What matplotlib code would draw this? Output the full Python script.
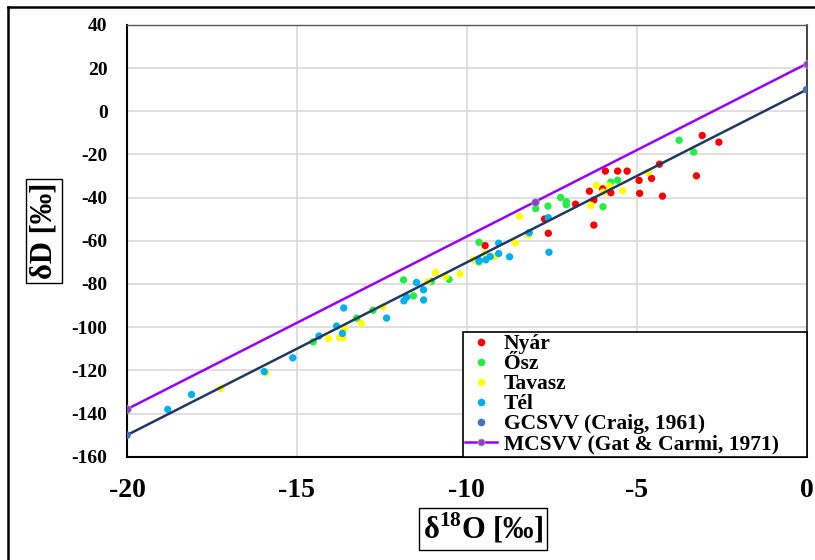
import numpy as np
import matplotlib.pyplot as plt
from matplotlib.lines import Line2D

plt.rcParams["font.family"] = ["Liberation Serif", "DejaVu Serif"]
plt.rcParams["font.weight"] = "bold"
plt.rcParams["axes.unicode_minus"] = False
plt.rcParams["mathtext.fontset"] = "custom"
plt.rcParams["mathtext.rm"] = "Liberation Serif:bold"
plt.rcParams["mathtext.bf"] = "Liberation Serif:bold"

# évszakos minták (δ18O, δD)
nyar_x = [-9.46, -7.71, -7.60, -6.80, -6.39, -6.26, -6.26, -6.00, -5.92, -5.76,
          -5.56, -5.28, -4.93, -4.91, -4.56, -4.33, -4.24, -3.24, -3.07, -2.58]
nyar_y = [-62.2, -49.9, -56.5, -43.0, -37.0, -41.1, -52.7, -35.9, -27.7, -37.7,
          -27.7, -27.7, -32.0, -38.0, -31.1, -24.5, -39.3, -29.9, -11.2, -14.3]

osz_x = [-14.52, -13.24, -12.76, -11.86, -11.57, -11.04, -10.52, -9.64, -9.64, -7.97,
         -7.61, -7.24, -7.07, -7.07, -5.99, -5.76, -5.56, -3.75, -3.32]
osz_y = [-106.8, -95.8, -92.2, -78.1, -85.5, -78.8, -77.9, -60.7, -69.8, -45.1,
         -43.9, -39.9, -41.9, -43.3, -44.2, -32.8, -31.9, -13.4, -18.9]

tavasz_x = [-17.24, -15.91, -14.07, -13.74, -13.65, -13.59, -13.10, -12.47, -11.14, -10.92,
            -10.62, -10.20, -9.81, -9.46, -9.18, -8.57, -8.45, -8.18, -6.34, -6.18,
            -5.99, -5.81, -5.41, -4.66]
tavasz_y = [-128.4, -121.2, -105.3, -104.9, -104.9, -100.5, -98.2, -90.5, -78.8, -74.7,
            -76.7, -75.3, -68.8, -66.0, -67.3, -61.0, -48.6, -57.3, -43.6, -34.3,
            -37.4, -34.5, -36.8, -28.3]

tel_x = [-18.80, -18.10, -15.96, -15.12, -14.35, -13.83, -13.66, -13.62, -12.36, -11.85,
         -11.77, -11.48, -11.27, -11.27, -9.64, -9.44, -9.31, -9.06, -9.06, -8.74,
         -8.16, -7.60, -7.58]
tel_y = [-138.1, -131.2, -120.6, -114.2, -104.1, -99.5, -102.9, -91.1, -95.8, -87.8,
         -86.1, -79.3, -82.7, -87.4, -69.1, -68.8, -67.3, -61.1, -65.9, -67.4,
         -56.2, -49.3, -65.3]

# vízvonalak
gcsvv_x = [-20, 0]
gcsvv_y = [-150, 10]
mcsvv_x = [-20, -8, 0]
mcsvv_y = [-138, -42, 22]

seasons = [
    ("Nyár", nyar_x, nyar_y, "#ff0000"),
    ("Ősz", osz_x, osz_y, "#22ee44"),
    ("Tavasz", tavasz_x, tavasz_y, "#ffff00"),
    ("Tél", tel_x, tel_y, "#00b0f0"),
]

fig = plt.figure(figsize=(8.15, 5.6), dpi=100)
ax = fig.add_axes([0.1558, 0.1845, 0.9896 - 0.1558, 0.9554 - 0.1845])

handles = []
for name, xs, ys, col in seasons:
    ax.scatter(xs, ys, s=28, color=col, edgecolors="none", zorder=3)
    handles.append(Line2D([], [], ls="none", marker="o", ms=5.5, mfc=col, mec="none", label=name))

# GCSVV
ax.plot(gcsvv_x, gcsvv_y, color="#1f3864", lw=1.8, zorder=4)
ax.scatter(gcsvv_x, gcsvv_y, s=30, color="#4472c4", edgecolors="none", zorder=5)
handles.append(Line2D([], [], ls="none", marker="o", ms=5.5, mfc="#4472c4", mec="none",
                      label="GCSVV (Craig, 1961)"))

# MCSVV
ax.plot(mcsvv_x, mcsvv_y, color="#9900ff", lw=1.8, marker="o", ms=5.5,
        mfc="#9933ee", mec="#88cc44", mew=0.6, zorder=5)
handles.append(Line2D([], [], color="#9900ff", lw=1.8, marker="o", ms=5.0,
                      mfc="#9933ee", mec="#88cc44", mew=0.6, label="MCSVV (Gat & Carmi, 1971)"))

ax.set_xlim(-20, 0)
ax.set_ylim(-160, 40)
ax.set_xticks(np.arange(-20, 1, 5))
ax.set_yticks(np.arange(-160, 41, 20))
ax.tick_params(axis="x", length=0, pad=15, labelsize=20)
ax.tick_params(axis="y", length=0, pad=14, labelsize=14)
for lab in ax.get_xticklabels() + ax.get_yticklabels():
    lab.set_fontweight("bold")
ax.grid(True, color="#d9d9d9", lw=1.2)
ax.set_axisbelow(True)

ax.spines["left"].set_linewidth(1.5)
ax.spines["bottom"].set_linewidth(1.5)
ax.spines["top"].set_color("#595959")
ax.spines["right"].set_color("#262626")
ax.spines["top"].set_linewidth(1.0)
ax.spines["right"].set_linewidth(1.2)

box = dict(boxstyle="square,pad=0.12", fc="white", ec="black", lw=1.0)
ax.set_xlabel(r"δ$^{18}$O [‰]", fontsize=22, fontweight="bold", bbox=box)
ax.xaxis.set_label_coords((483 - 127) / (806.5 - 127), (457 - 529) / (457 - 25))
ax.xaxis.label.set_va("center")
ax.set_ylabel("δD [‰]", fontsize=22, fontweight="bold", bbox=box)
ax.yaxis.set_label_coords((44 - 127) / (806.5 - 127), (457 - 231) / (457 - 25))
ax.yaxis.label.set_va("center")

leg = ax.legend(handles=handles, loc="lower right",
                bbox_to_anchor=((463 - 127) / (806.5 - 127), 0,
                                (806.5 - 463) / (806.5 - 127), (457 - 330) / (457 - 25)),
                mode="expand", fontsize=15.5, labelspacing=0.0, borderpad=0.1,
                handlelength=1.5, handletextpad=0.3, borderaxespad=0,
                frameon=True, fancybox=False, edgecolor="black", framealpha=1)
leg.get_frame().set_linewidth(1.2)
for t in leg.get_texts():
    t.set_fontweight("bold")

# külső keret
fig.add_artist(Line2D([8 / 815, 8 / 815], [0, 1 - 7 / 560], color="black", lw=1.8,
                      transform=fig.transFigure))
fig.add_artist(Line2D([8 / 815, 1], [1 - 7 / 560, 1 - 7 / 560], color="black", lw=1.8,
                      transform=fig.transFigure))

fig.savefig("out.png", dpi=100)
